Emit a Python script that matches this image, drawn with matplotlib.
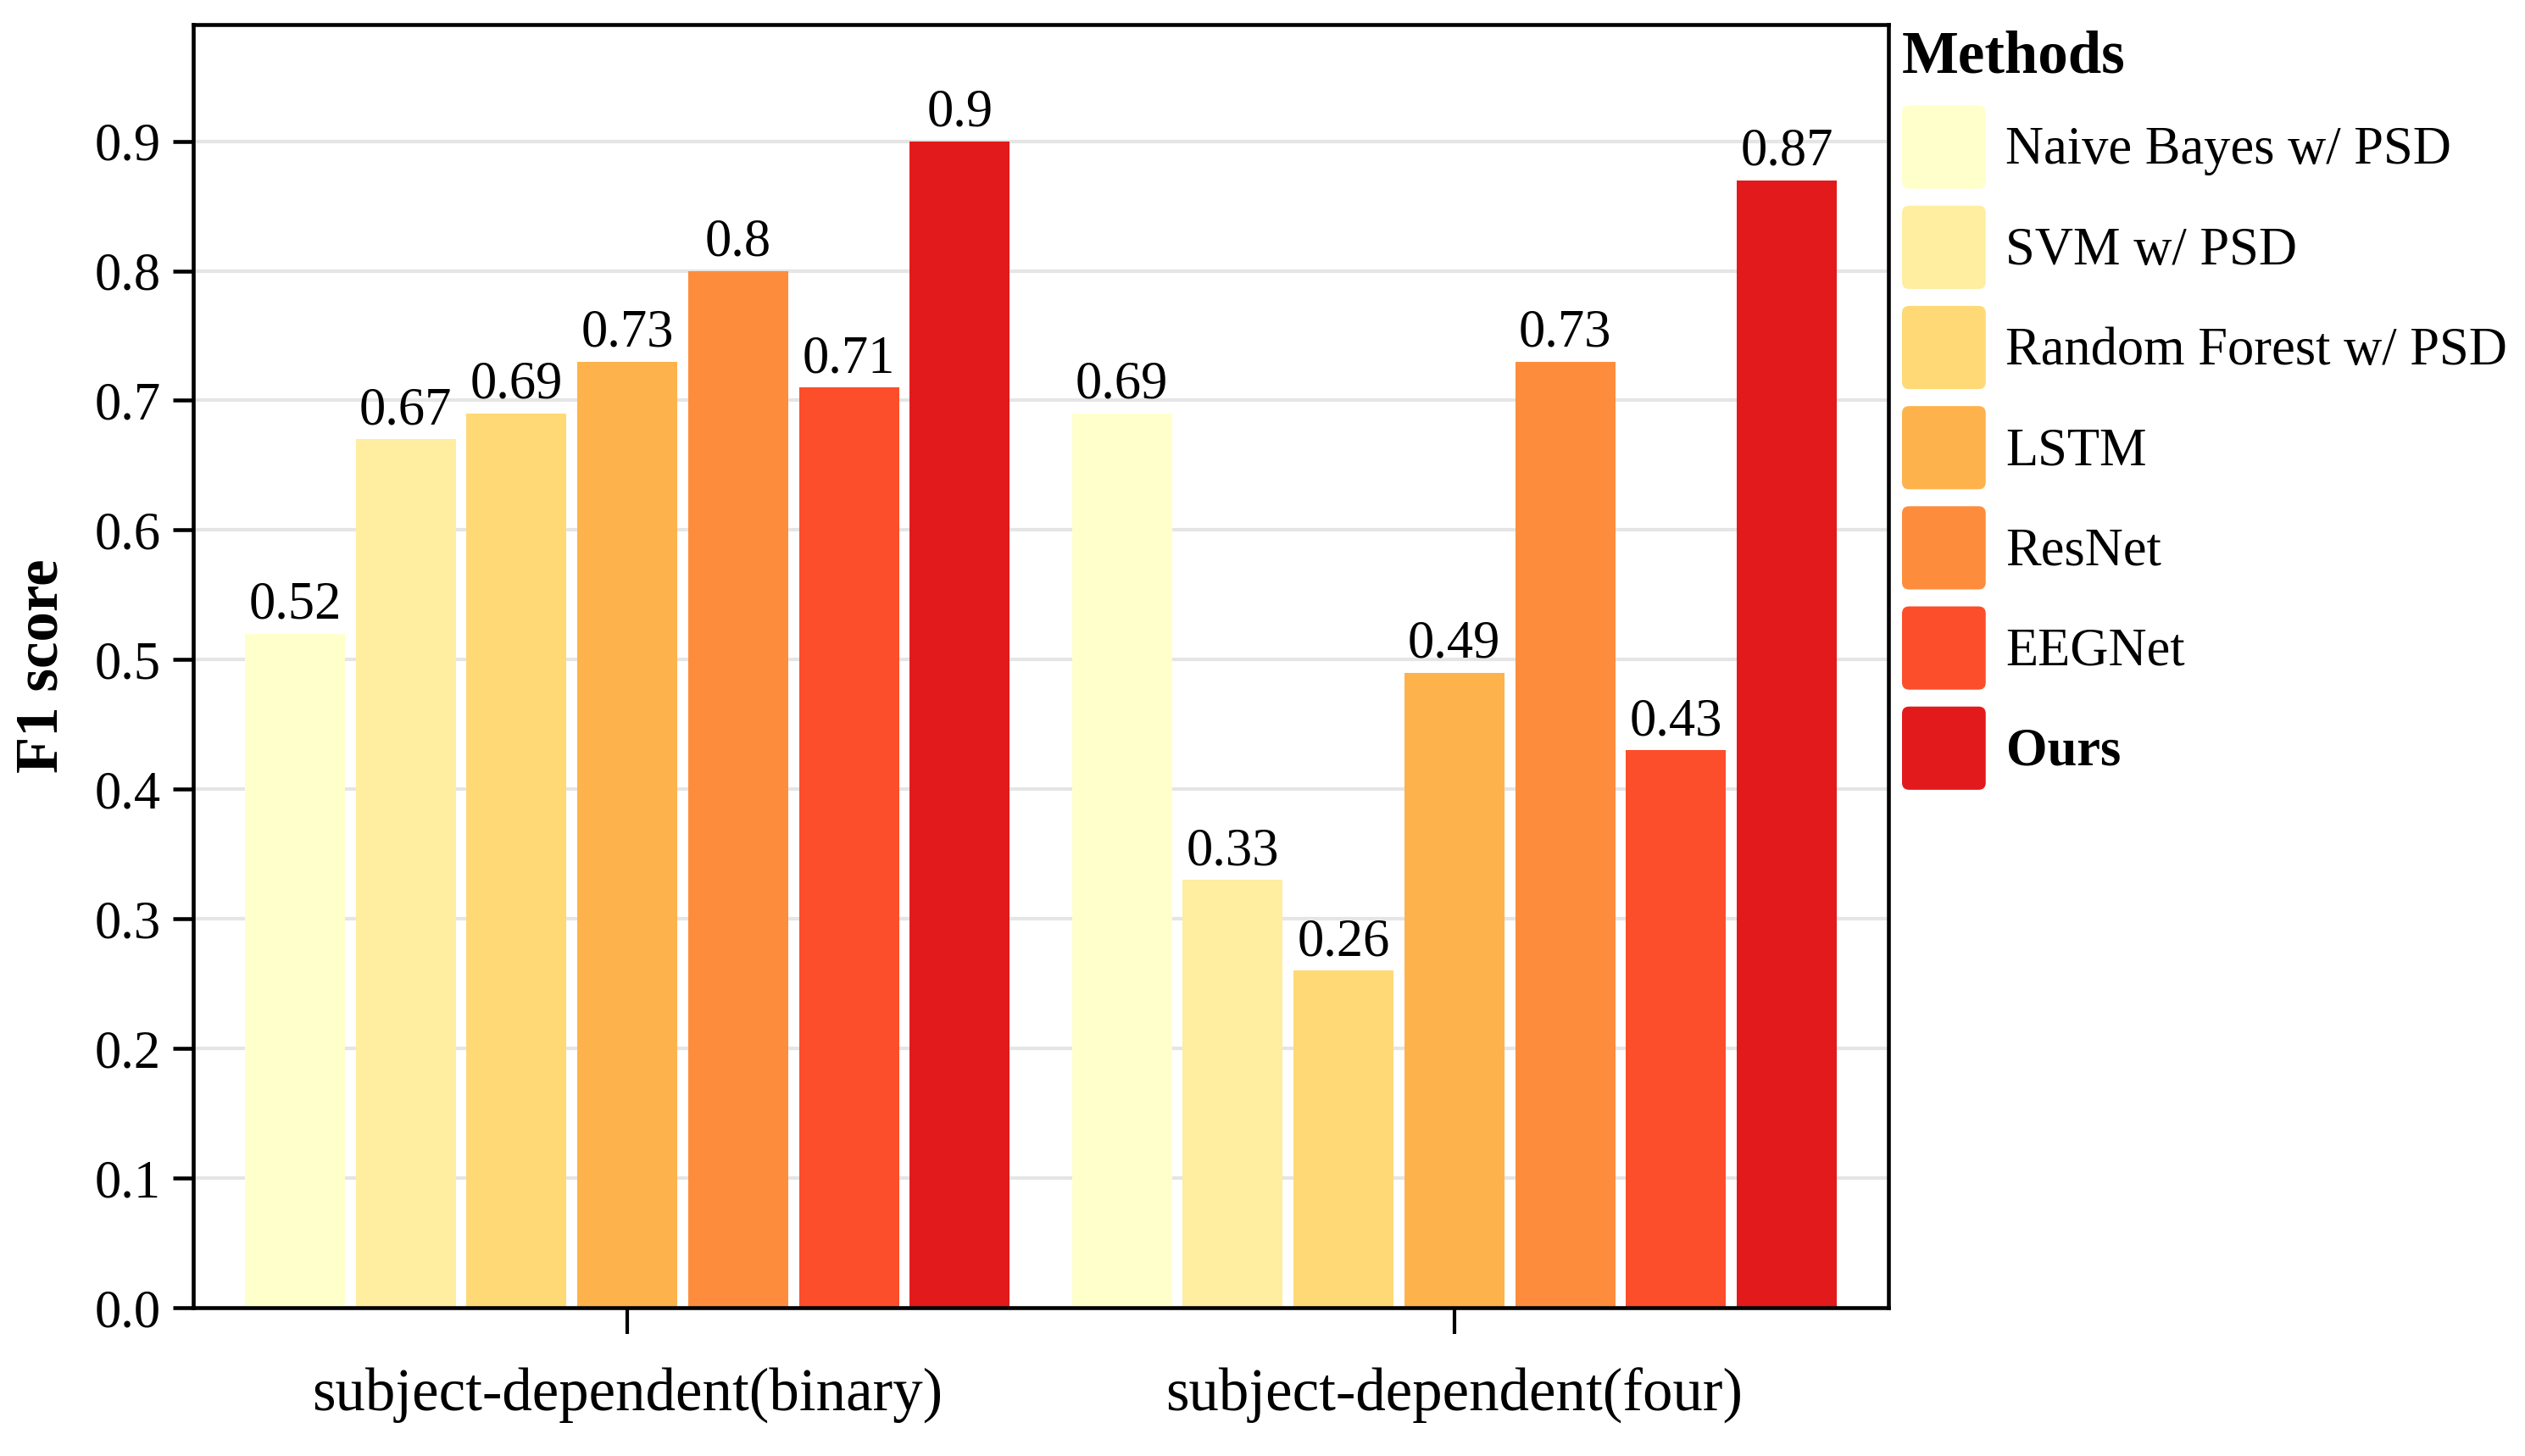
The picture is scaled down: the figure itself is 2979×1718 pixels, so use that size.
import matplotlib
matplotlib.use("Agg")
import matplotlib.pyplot as plt
import numpy as np
from matplotlib.patches import FancyBboxPatch, Patch
from matplotlib.legend_handler import HandlerPatch

plt.rcParams['font.family'] = ['Liberation Serif', 'DejaVu Serif']

# data
groups = ['subject-dependent(binary)', 'subject-dependent(four)']
methods = ['Naive Bayes w/ PSD', 'SVM w/ PSD', 'Random Forest w/ PSD',
           'LSTM', 'ResNet', 'EEGNet', 'Ours']
binary_f1 = [0.52, 0.67, 0.69, 0.73, 0.8, 0.71, 0.9]
four_f1 = [0.69, 0.33, 0.26, 0.49, 0.73, 0.43, 0.87]
colors = ['#ffffcc', '#ffeda0', '#fed976', '#feb24c', '#fd8d3c', '#fc4e2a', '#e31a1c']
yticks = [0.0, 0.1, 0.2, 0.3, 0.4, 0.5, 0.6, 0.7, 0.8, 0.9]

W, H = 2979, 1718
fig = plt.figure(figsize=(W / 300, H / 300), dpi=300)
ax = fig.add_axes([228 / W, 1 - 1543 / H, 2000 / W, 1514 / H])

x = np.arange(len(groups))
step = 0.134
width = 0.121
scores = np.array([binary_f1, four_f1])

for i, m in enumerate(methods):
    pos = x + (i - 3) * step
    bars = ax.bar(pos, scores[:, i], width, color=colors[i], label=m, zorder=2)
    for b, v in zip(bars, scores[:, i]):
        ax.annotate(f'{v:g}', (b.get_x() + b.get_width() / 2, v),
                    xytext=(0, 1), textcoords='offset points',
                    ha='center', va='bottom', fontsize=15)

ax.set_xlim(-0.525, 1.525)
ax.set_ylim(0, 0.99)
ax.set_xticks(x)
ax.set_xticklabels(groups, fontsize=17)
ax.set_yticks(yticks)
ax.set_yticklabels([f'{t:.1f}' for t in yticks], fontsize=15)
ax.tick_params(axis='x', length=7.5, width=1.0, pad=9.4)
ax.tick_params(axis='y', length=5.7, width=1.1, pad=3.4)
ax.set_ylabel('F1 score', fontsize=17, fontweight='bold', labelpad=7)
ax.yaxis.grid(True, color='#e5e5e5', linewidth=1.0, zorder=0)
ax.set_axisbelow(True)
for s in ax.spines.values():
    s.set_linewidth(1.1)


def rounded_box(legend, orig_handle, xdescent, ydescent, width, height, fontsize):
    return FancyBboxPatch((-xdescent, -ydescent), width, height,
                          boxstyle='round,pad=0,rounding_size=2',
                          facecolor=orig_handle.get_facecolor(), edgecolor='none')


handles = [Patch(facecolor=c) for c in colors]
leg = fig.legend(handles, methods, loc='upper left',
                 bbox_to_anchor=(2244 / W, 1 - 35 / H), frameon=False,
                 fontsize=15, title='Methods', alignment='left',
                 title_fontproperties={'weight': 'bold', 'size': 17},
                 handlelength=1.58, handleheight=2.04, handletextpad=0.38,
                 labelspacing=0.32, borderpad=0, borderaxespad=0,
                 handler_map={Patch: HandlerPatch(patch_func=rounded_box)})
leg.get_texts()[-1].set_fontweight('bold')
leg._legend_box.sep = 5.9

fig.savefig('out.png', dpi=300)
